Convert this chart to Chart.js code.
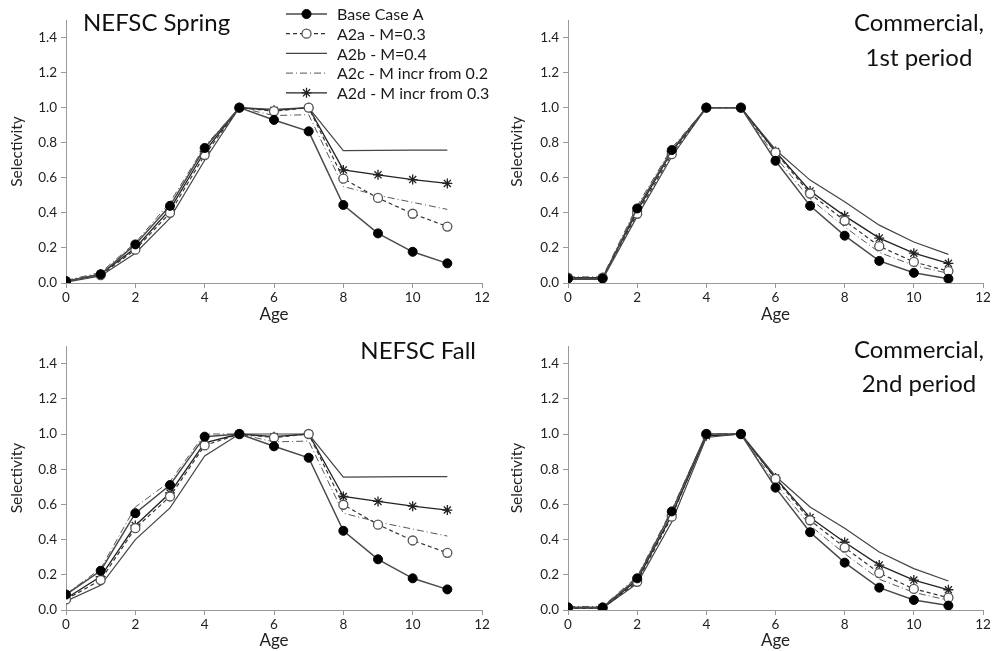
<!DOCTYPE html>
<html>
<head>
<meta charset="utf-8">
<script src="https://cdn.jsdelivr.net/npm/chart.js@4/dist/chart.umd.min.js"></script>
<style>
  html,body{margin:0;padding:0;background:#fff;}
  #wrap{position:relative;width:1000px;height:651px;overflow:hidden;font-family:Lato,"Open Sans",sans-serif;}
  canvas{position:absolute;}
  .ttl{position:absolute;font-size:24px;color:#111;line-height:35px;white-space:nowrap;text-align:center;}
</style>
</head>
<body>
<div id="wrap">
  <canvas id="c1" width="500" height="325" style="left:0;top:0"></canvas>
  <canvas id="c2" width="500" height="325" style="left:500px;top:0"></canvas>
  <canvas id="c3" width="500" height="326" style="left:0;top:325px"></canvas>
  <canvas id="c4" width="500" height="326" style="left:500px;top:325px"></canvas>
  <div class="ttl" style="left:83px;top:4px;">NEFSC Spring</div>
  <div class="ttl" style="right:16px;top:4px;">Commercial,<br>1st period</div>
  <div class="ttl" style="right:524px;top:332px;">NEFSC Fall</div>
  <div class="ttl" style="right:16px;top:332px;line-height:34px;">Commercial,<br>2nd period</div>
</div>
<script>
// ---- data ----
const ages = [0,1,2,3,4,5,6,7,8,9,10,11];
const legendLabels = ["Base Case A","A2a - M=0.3","A2b - M=0.4","A2c - M incr from 0.2","A2d - M incr from 0.3"];
const yTicks = [0.0,0.2,0.4,0.6,0.8,1.0,1.2,1.4];
const xTicks = [0,2,4,6,8,10,12];

const springBase = [0.01,0.05,0.22,0.44,0.77,1.0,0.93,0.865,0.445,0.283,0.178,0.112];
const springA2a  = [0.01,0.045,0.19,0.40,0.73,1.0,0.98,1.0,0.595,0.485,0.395,0.322];
const springA2b  = [0.005,0.04,0.17,0.37,0.70,1.0,0.99,1.0,0.755,0.756,0.758,0.758];
const springA2c  = [0.015,0.06,0.23,0.46,0.78,1.0,0.955,0.96,0.55,0.50,0.46,0.42];
const springA2d  = [0.01,0.05,0.20,0.42,0.75,1.0,0.985,1.0,0.645,0.617,0.59,0.568];

const comm1Base = [0.025,0.025,0.425,0.758,1.0,1.0,0.697,0.44,0.27,0.126,0.058,0.024];
const comm1A2a  = [0.03,0.03,0.395,0.735,1.0,1.0,0.745,0.51,0.355,0.21,0.12,0.068];
const comm1A2b  = [0.02,0.02,0.38,0.72,1.0,1.0,0.76,0.587,0.463,0.33,0.234,0.163];
const comm1A2c  = [0.035,0.035,0.44,0.77,1.0,1.0,0.72,0.48,0.32,0.175,0.10,0.055];
const comm1A2d  = [0.03,0.03,0.41,0.75,1.0,1.0,0.75,0.525,0.383,0.256,0.17,0.112];

const fallBase = [0.088,0.223,0.55,0.71,0.985,1.0,0.93,0.865,0.45,0.288,0.18,0.117];
const fallA2a  = [0.06,0.17,0.465,0.645,0.935,1.0,0.98,1.0,0.598,0.485,0.395,0.325];
const fallA2b  = [0.05,0.14,0.40,0.58,0.875,1.0,1.0,1.0,0.755,0.756,0.758,0.758];
const fallA2c  = [0.09,0.235,0.585,0.73,1.0,1.0,0.955,0.96,0.55,0.50,0.46,0.42];
const fallA2d  = [0.065,0.19,0.48,0.665,0.95,1.0,0.985,1.0,0.645,0.617,0.59,0.568];

const comm2Base = [0.015,0.015,0.18,0.56,1.0,1.0,0.695,0.442,0.269,0.127,0.057,0.025];
const comm2A2a  = [0.01,0.01,0.16,0.53,1.0,1.0,0.745,0.51,0.355,0.21,0.12,0.07];
const comm2A2b  = [0.01,0.01,0.15,0.50,0.98,1.0,0.76,0.585,0.465,0.33,0.235,0.165];
const comm2A2c  = [0.02,0.02,0.19,0.57,1.0,1.0,0.72,0.48,0.32,0.175,0.10,0.055];
const comm2A2d  = [0.012,0.012,0.17,0.54,0.99,1.0,0.75,0.525,0.385,0.255,0.17,0.115];

// ---- styles ----
Chart.defaults.font.family = "Lato, 'Open Sans', sans-serif";
const styles = [
  {borderColor:'#4a4a4a',borderWidth:1.5,pointStyle:'circle',pointRadius:4.5,pointBackgroundColor:'#000',pointBorderColor:'#000',pointBorderWidth:1},
  {borderColor:'#333',borderWidth:1.2,borderDash:[4,3],pointStyle:'circle',pointRadius:4.5,pointBackgroundColor:'#fff',pointBorderColor:'#555',pointBorderWidth:1.3},
  {borderColor:'#444',borderWidth:1.2,pointRadius:0},
  {borderColor:'#555',borderWidth:1,borderDash:[7,3,1,3],pointRadius:0},
  {borderColor:'#222',borderWidth:1.3,pointStyle:'star',pointRadius:5,pointBackgroundColor:'#222',pointBorderColor:'#222',pointBorderWidth:1.3}
];

function makeDatasets(series){
  return series.map((arr,i)=>Object.assign({
    label: legendLabels[i],
    data: ages.map((a,j)=>({x:a,y:arr[j]})),
    fill:false, tension:0, pointHoverRadius:0
  }, styles[i]));
}

const legendPlugin = {
  id:'legendBox',
  afterDraw(chart){
    const ctx = chart.ctx;
    ctx.save();
    const x0 = 286, x1 = 327, tx = 337, y0 = 14, dy = 19.7;
    chart.data.datasets.forEach((ds,i)=>{
      const y = y0 + i*dy;
      ctx.beginPath();
      ctx.setLineDash(ds.borderDash || []);
      ctx.strokeStyle = ds.borderColor;
      ctx.lineWidth = ds.borderWidth;
      ctx.moveTo(x0,y); ctx.lineTo(x1,y); ctx.stroke();
      ctx.setLineDash([]);
      if (ds.pointRadius > 0){
        ctx.fillStyle = ds.pointBackgroundColor;
        ctx.strokeStyle = ds.pointBorderColor;
        ctx.lineWidth = ds.pointBorderWidth;
        Chart.helpers.drawPoint(ctx,{pointStyle:ds.pointStyle,radius:ds.pointRadius,rotation:0,borderWidth:ds.pointBorderWidth},(x0+x1)/2,y);
      }
      ctx.fillStyle = '#1a1a1a';
      ctx.font = "16px Lato, 'Open Sans', sans-serif";
      ctx.textBaseline = 'middle';
      ctx.textAlign = 'left';
      ctx.fillText(ds.label, tx, y+1);
    });
    ctx.restore();
  }
};

function makeChart(id, series, yWidth, padRight, padTop, xHeight, withLegend){
  return new Chart(document.getElementById(id), {
    type:'line',
    data:{datasets: makeDatasets(series)},
    plugins: withLegend ? [legendPlugin] : [],
    options:{
      responsive:false, animation:false,
      layout:{padding:{left:0,right:padRight,top:padTop,bottom:0}},
      plugins:{legend:{display:false},tooltip:{enabled:false},title:{display:false}},
      scales:{
        x:{
          type:'linear', min:0, max:12,
          afterBuildTicks(s){ s.ticks = xTicks.map(v=>({value:v})); },
          afterFit(s){ s.height = xHeight; },
          grid:{drawOnChartArea:false,drawTicks:true,tickLength:5,color:'#999'},
          border:{color:'#999',width:1},
          ticks:{color:'#222',font:{size:13.5},padding:2,maxRotation:0,callback:v=>String(v)},
          title:{display:true,text:'Age',color:'#222',font:{size:17},padding:{top:0,bottom:0}}
        },
        y:{
          type:'linear', min:0, max:1.5,
          afterBuildTicks(s){ s.ticks = yTicks.map(v=>({value:v})); },
          afterFit(s){ s.width = yWidth; },
          grid:{drawOnChartArea:false,drawTicks:true,tickLength:5,color:'#999'},
          border:{color:'#999',width:1},
          ticks:{color:'#222',font:{size:13.5},padding:4,callback:v=>Number(v).toFixed(1)},
          title:{display:true,text:'Selectivity',color:'#222',font:{size:15.5},padding:{top:8,bottom:0}}
        }
      }
    }
  });
}

makeChart('c1',[springBase,springA2a,springA2b,springA2c,springA2d],66,18,20,42,true);
makeChart('c2',[comm1Base,comm1A2a,comm1A2b,comm1A2c,comm1A2d],68,17,20,42,false);
makeChart('c3',[fallBase,fallA2a,fallA2b,fallA2c,fallA2d],66,18,21,41,false);
makeChart('c4',[comm2Base,comm2A2a,comm2A2b,comm2A2c,comm2A2d],68,17,21,41,false);
</script>
</body>
</html>
